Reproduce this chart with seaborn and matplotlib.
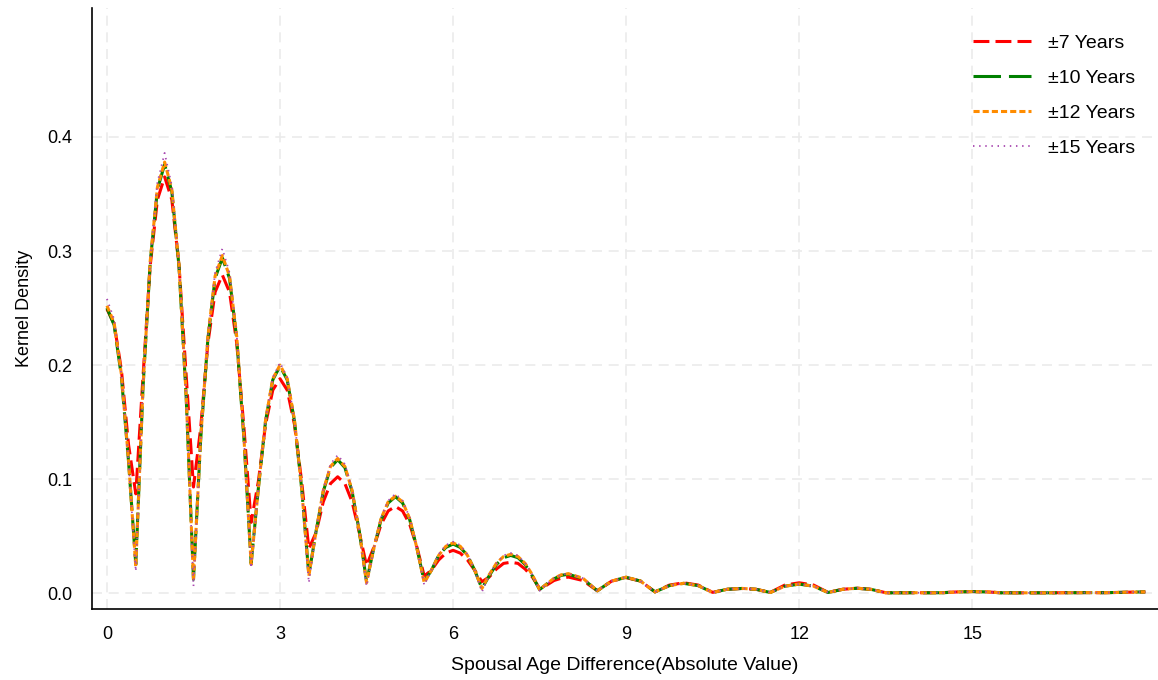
import numpy as np
import pandas as pd
import matplotlib
matplotlib.use("Agg")
import matplotlib.pyplot as plt
import seaborn as sns

# evaluation grid: fine steps where the density oscillates, coarser in the tail
age_diff = np.concatenate([np.arange(0, 8.001, 0.125), np.arange(8.25, 18.001, 0.25)])

dens_7 = [
    0.249, 0.236, 0.196, 0.130, 0.087, 0.190, 0.287, 0.345,
    0.365, 0.345, 0.287, 0.190, 0.093, 0.145, 0.219, 0.264,
    0.279, 0.264, 0.219, 0.145, 0.062, 0.098, 0.148, 0.178,
    0.188, 0.178, 0.148, 0.098, 0.039, 0.053, 0.080, 0.096,
    0.102, 0.096, 0.080, 0.053, 0.024, 0.040, 0.060, 0.072,
    0.076, 0.072, 0.060, 0.040, 0.015, 0.020, 0.029, 0.035,
    0.0375, 0.035, 0.029, 0.020, 0.010, 0.014, 0.021, 0.026,
    0.027, 0.026, 0.021, 0.014, 0.004, 0.007, 0.011, 0.013,
    0.014,
    0.011, 0.002, 0.0105, 0.0135, 0.0105, 0.001, 0.007, 0.009,
    0.007, 0.0006, 0.0033, 0.004, 0.0033, 0.0006, 0.007, 0.009,
    0.007, 0.0006, 0.0033, 0.0042, 0.0033, 0.0003, 0.0003, 0.0003,
    0.0003, 0.0004, 0.001, 0.0013, 0.001, 0.0003, 0.0002, 0.0002,
    0.0002, 0.0003, 0.0003, 0.0004, 0.0003, 0.0005, 0.0008, 0.001,
]

dens_10 = [
    0.250, 0.235, 0.190, 0.115, 0.025, 0.180, 0.290, 0.354,
    0.376, 0.352, 0.286, 0.170, 0.012, 0.135, 0.223, 0.276,
    0.294, 0.276, 0.223, 0.135, 0.026, 0.092, 0.151, 0.187,
    0.199, 0.187, 0.151, 0.092, 0.016, 0.054, 0.089, 0.110,
    0.117, 0.110, 0.089, 0.054, 0.010, 0.039, 0.064, 0.079,
    0.0845, 0.079, 0.064, 0.039, 0.010, 0.020, 0.033, 0.040,
    0.043, 0.040, 0.033, 0.020, 0.004, 0.015, 0.025, 0.031,
    0.033, 0.031, 0.025, 0.015, 0.003, 0.008, 0.0125, 0.0155,
    0.0165,
    0.0125, 0.002, 0.0105, 0.0138, 0.0105, 0.001, 0.0065, 0.0085,
    0.0065, 0.0005, 0.0033, 0.004, 0.0033, 0.0005, 0.006, 0.0078,
    0.006, 0.0005, 0.0032, 0.0042, 0.0032, 0.0002, 0.0002, 0.0003,
    0.0002, 0.0003, 0.001, 0.0013, 0.001, 0.0002, 0.0002, 0.0002,
    0.0002, 0.0002, 0.0003, 0.0004, 0.0003, 0.0005, 0.0008, 0.001,
]

dens_12 = [
    0.252, 0.237, 0.192, 0.116, 0.023, 0.181, 0.291, 0.356,
    0.378, 0.354, 0.287, 0.171, 0.011, 0.136, 0.225, 0.278,
    0.296, 0.278, 0.225, 0.136, 0.025, 0.092, 0.152, 0.188,
    0.200, 0.188, 0.152, 0.092, 0.015, 0.054, 0.090, 0.111,
    0.118, 0.111, 0.090, 0.054, 0.009, 0.039, 0.065, 0.080,
    0.085, 0.080, 0.065, 0.039, 0.009, 0.020, 0.033, 0.041,
    0.044, 0.041, 0.033, 0.020, 0.004, 0.016, 0.026, 0.032,
    0.034, 0.032, 0.026, 0.016, 0.003, 0.008, 0.013, 0.016,
    0.017,
    0.013, 0.002, 0.0105, 0.014, 0.0105, 0.001, 0.0065, 0.0086,
    0.0065, 0.0005, 0.0033, 0.0041, 0.0033, 0.0005, 0.006, 0.0079,
    0.006, 0.0005, 0.0032, 0.0043, 0.0032, 0.0002, 0.0002, 0.0003,
    0.0002, 0.0003, 0.001, 0.0013, 0.001, 0.0002, 0.0002, 0.0002,
    0.0002, 0.0002, 0.0003, 0.0004, 0.0003, 0.0005, 0.0008, 0.001,
]

dens_15 = [
    0.258, 0.240, 0.192, 0.115, 0.019, 0.181, 0.292, 0.360,
    0.386, 0.357, 0.288, 0.170, 0.006, 0.136, 0.226, 0.281,
    0.302, 0.281, 0.226, 0.136, 0.022, 0.092, 0.152, 0.189,
    0.202, 0.189, 0.152, 0.091, 0.009, 0.055, 0.091, 0.113,
    0.121, 0.113, 0.091, 0.054, 0.006, 0.039, 0.066, 0.081,
    0.087, 0.081, 0.066, 0.039, 0.007, 0.020, 0.034, 0.042,
    0.045, 0.042, 0.034, 0.020, 0.001, 0.016, 0.026, 0.033,
    0.035, 0.033, 0.026, 0.016, 0.002, 0.008, 0.013, 0.016,
    0.017,
    0.013, 0.002, 0.0105, 0.014, 0.0105, 0.001, 0.0065, 0.0086,
    0.0065, 0.0005, 0.0033, 0.0041, 0.0033, 0.0005, 0.006, 0.0079,
    0.006, 0.0005, 0.0032, 0.0043, 0.0032, 0.0002, 0.0002, 0.0003,
    0.0002, 0.0003, 0.001, 0.0013, 0.001, 0.0002, 0.0002, 0.0002,
    0.0002, 0.0002, 0.0003, 0.0004, 0.0003, 0.0005, 0.0008, 0.001,
]

labels = ["±7 Years", "±10 Years", "±12 Years", "±15 Years"]
x_ticks = [0, 3, 6, 9, 12, 15]
y_ticks = [0.0, 0.1, 0.2, 0.3, 0.4]

df = pd.DataFrame({
    "diff": np.tile(age_diff, 4),
    "density": dens_7 + dens_10 + dens_12 + dens_15,
    "band": np.repeat(labels, len(age_diff)),
})

sns.set_style("white")
plt.rcParams["font.family"] = ["Liberation Sans", "DejaVu Sans"]
plt.rcParams["text.color"] = "black"
plt.rcParams["axes.labelcolor"] = "black"
plt.rcParams["xtick.color"] = "black"
plt.rcParams["ytick.color"] = "black"

fig = plt.figure(figsize=(11.58, 6.80), dpi=100)
ax = fig.add_axes([0.0794, 0.1044, 0.9206, 0.8836])

styles = {
    "±7 Years": dict(color="#ff0000", lw=2.2, ls=(0, (5.2, 2.0))),
    "±10 Years": dict(color="#008000", lw=2.2, ls=(0, (9.0, 2.6))),
    "±12 Years": dict(color="#ff8c00", lw=2.2, ls=(0, (2.0, 1.0))),
    "±15 Years": dict(color="#a848b0", lw=1.3, ls=(0, (0.8, 2.6))),
}

for lab in labels:
    st = styles[lab]
    sns.lineplot(data=df[df["band"] == lab], x="diff", y="density", ax=ax,
                 color=st["color"], linewidth=st["lw"], linestyle=st["ls"],
                 label=lab)

ax.set_xlim(-0.26, 18.22)
ax.set_ylim(-0.014, 0.513)
ax.set_xticks(x_ticks)
ax.set_yticks(y_ticks)
ax.set_yticklabels([f"{v:.1f}" for v in y_ticks])
ax.grid(True, color="#ebebeb", linestyle=(0, (6, 4)), linewidth=1.2)
ax.set_axisbelow(True)

sns.despine(ax=ax)
for side in ["left", "bottom"]:
    ax.spines[side].set_color("black")
    ax.spines[side].set_linewidth(1.2)
ax.tick_params(axis="both", direction="out", length=7, width=1, color="black",
               labelsize=13)
ax.tick_params(axis="x", pad=5)
ax.tick_params(axis="y", pad=7)

ax.set_xlabel("Spousal Age Difference(Absolute Value)", fontsize=14, labelpad=10)
ax.set_ylabel("Kernel Density", fontsize=13, labelpad=10)

ax.legend(loc="upper right", bbox_to_anchor=(0.995, 0.986), frameon=False,
          fontsize=14, handlelength=3.0, handletextpad=0.87, labelspacing=0.9)

fig.savefig("out.png", dpi=100)
